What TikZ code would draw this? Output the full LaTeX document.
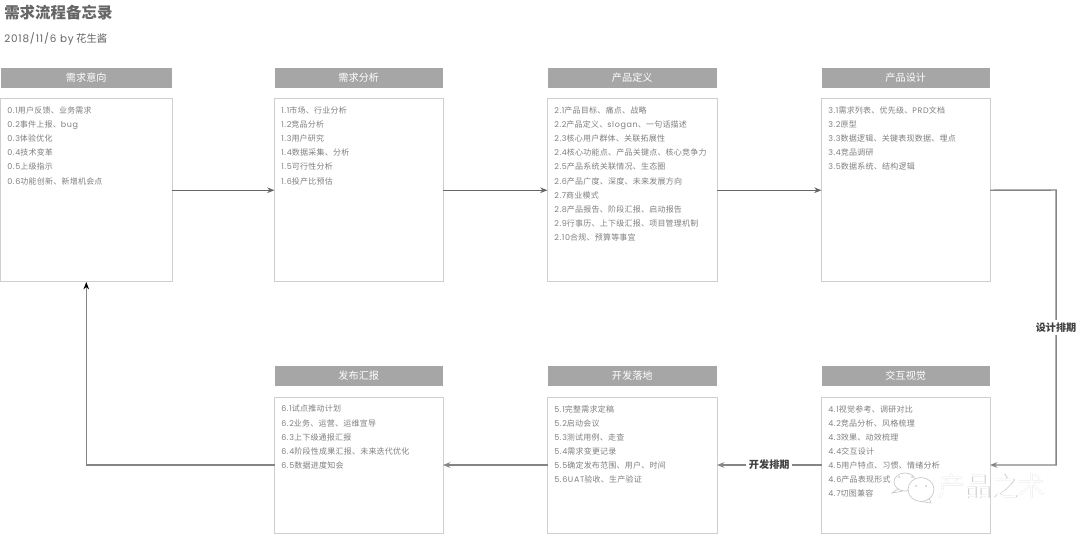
\documentclass[tikz,border=0pt]{standalone}
\usepackage{fontspec}
\setmainfont[LetterSpace=3]{Noto Sans CJK SC}
\newfontfamily\latf[LetterSpace=8]{Poppins}
\newfontfamily\plainf{Noto Sans CJK SC}
\newcommand\lt[1]{{\latf #1}}
\definecolor{headgray}{HTML}{A6A6A6}
\definecolor{boxgray}{HTML}{CFCFCF}
\definecolor{itemgray}{HTML}{808080}
\definecolor{linegray}{HTML}{666666}
\definecolor{lowgray}{HTML}{858585}
\definecolor{titlegray}{HTML}{666666}
\definecolor{markgray}{HTML}{C8C8C8}
\usetikzlibrary{arrows.meta}
\tikzset{
  x=0.75pt,y=-0.75pt,
  headbox/.style={fill=headgray,text=white,inner sep=0pt,outer sep=0pt,font=\plainf\fontsize{7.6}{9}\selectfont},
  bodybox/.style={draw=boxgray,line width=0.75pt,fill=white,inner sep=0pt,outer sep=0pt},
  itemlist/.style={anchor=north west,text=itemgray,align=left,inner sep=0pt,font=\fontsize{6}{10.575}\selectfont},
  flow/.style={draw=linegray,line width=0.7pt,-{Stealth[length=5.5pt,width=4.2pt]}},
  flowlow/.style={draw=lowgray,line width=1.1pt,-{Stealth[length=5.5pt,width=4.2pt]}},
  flowlabel/.style={fill=white,text=black!75,inner sep=2pt,font=\plainf\bfseries\fontsize{7.6}{9}\selectfont},
  wmline/.style={draw=markgray,line width=0.5pt},
}
% #1 name, #2 left, #3 right, #4 head top, #5 head bottom, #6 body top, #7 body bottom, #8 title, #9 items
\newcommand\card[9]{%
  \node[headbox,minimum width={(#3-#2)*0.75pt},minimum height={(#5-#4)*0.75pt}] (h#1) at ({(#2+#3)/2},{(#4+#5)/2}) {#8};
  \node[bodybox,minimum width={(#3-#2)*0.75pt},minimum height={(#7-#6)*0.75pt}] (b#1) at ({(#2+#3)/2},{(#6+#7)/2}) {};
  \node[itemlist] (t#1) at ({#2+6.5},{#6+8}) {#9};
}
\begin{document}
\begin{tikzpicture}
\useasboundingbox (0,0) rectangle (1080,534);
\fill[white] (0,0) rectangle (1080,534);

\node[anchor=west,inner sep=0pt,text=titlegray,font=\plainf\bfseries\fontsize{11.6}{14}\selectfont] (title) at (4,12.5) {需求流程备忘录};
\node[anchor=west,inner sep=0pt,text=titlegray,font=\plainf\fontsize{7.8}{10}\selectfont] (sub) at (4,38.5) {{\latf 2018/11/6 by} 花生酱};

\card{0}{0.5}{172}{68}{88}{98.5}{282}{需求意向}{%
\lt{0.1}用户反馈、业务需求\\\lt{0.2}事件上报、\lt{bug}\\\lt{0.3}体验优化\\\lt{0.4}技术变革\\\lt{0.5}上级指示\\\lt{0.6}功能创新、新增机会点}
\card{1}{274.5}{443}{68}{88}{98.5}{282}{需求分析}{%
\lt{1.1}市场、行业分析\\\lt{1.2}竞品分析\\\lt{1.3}用户研究\\\lt{1.4}数据采集、分析\\\lt{1.5}可行性分析\\\lt{1.6}投产比预估}
\card{2}{547.5}{717}{68}{88}{98.5}{282}{产品定义}{%
\lt{2.1}产品目标、痛点、战略\\\lt{2.2}产品定义、\lt{slogan}、一句话描述\\\lt{2.3}核心用户群体、关联拓展性\\\lt{2.4}核心功能点、产品关键点、核心竞争力\\\lt{2.5}产品系统关联情况、生态圈\\\lt{2.6}产品广度、深度、未来发展方向\\\lt{2.7}商业模式\\\lt{2.8}产品报告、阶段汇报、启动报告\\\lt{2.9}行事历、上下级汇报、项目管理机制\\\lt{2.10}合规、预算等事宜}
\card{3}{821.5}{990}{68}{88}{98.5}{282}{产品设计}{%
\lt{3.1}需求列表、优先级、\lt{PRD}文档\\\lt{3.2}原型\\\lt{3.3}数据逻辑、关键表现数据、埋点\\\lt{3.4}竞品调研\\\lt{3.5}数据系统、结构逻辑}
\card{4}{821.5}{990}{366}{386}{397}{533}{交互视觉}{%
\lt{4.1}视觉参考、调研对比\\\lt{4.2}竞品分析、风格梳理\\\lt{4.3}效果、动效梳理\\\lt{4.4}交互设计\\\lt{4.5}用户特点、习惯、情绪分析\\\lt{4.6}产品表现形式\\\lt{4.7}切图兼容}
\card{5}{547.5}{717}{366}{386}{397}{533}{开发落地}{%
\lt{5.1}完整需求定稿\\\lt{5.2}启动会议\\\lt{5.3}测试用例、走查\\\lt{5.4}需求变更记录\\\lt{5.5}确定发布范围、用户、时间\\\lt{5.6UAT}验收、生产验证}
\card{6}{274.5}{443}{366}{386}{397}{533}{发布汇报}{%
\lt{6.1}试点推动计划\\\lt{6.2}业务、运营、运维宣导\\\lt{6.3}上下级通报汇报\\\lt{6.4}阶段性成果汇报、未来迭代优化\\\lt{6.5}数据进度知会}

\draw[flow] (b0.east) -- (b1.west);
\draw[flow] (b1.east) -- (b2.west);
\draw[flow] (b2.east) -- (b3.west);
\coordinate (cr1) at (1056,190);
\coordinate (cr2) at (1056,465);
\draw[flowlow] (b3.east) -- (cr1) -- node[flowlabel,pos=0.5] (lab1) {设计排期} (cr2) -- (b4.east);
\draw[flowlow] (b4.west) -- node[flowlabel,pos=0.5] (lab2) {开发排期} (b5.east);
\draw[flowlow] (b5.west) -- (b6.east);
\draw[flowlow,-{Stealth[length=5.5pt,width=4.2pt,color=black]}] (b6.west) -| (b0.south);

% watermark
\node[text=markgray,inner sep=0pt,font=\plainf\fontsize{20}{24}\selectfont] (wma) at (992,486.6) {产品之术};
\node[text=white,inner sep=0pt,font=\plainf\fontsize{20}{24}\selectfont] (wmb) at (991.6,486.2) {产品之术};
\draw[wmline] (905,482) ellipse[x radius=11,y radius=9];
\draw[wmline] (898,489) -- (892,493) -- (903,491);
\draw[wmline,fill=white] (921,489.5) ellipse[x radius=13,y radius=12];
\draw[wmline] (921,501.5) -- (931,503) -- (929,498);
\fill[markgray] (899,477) circle[radius=1] (912,477) circle[radius=1] (916,486) circle[radius=1] (926,486) circle[radius=1];
\end{tikzpicture}
\end{document}
